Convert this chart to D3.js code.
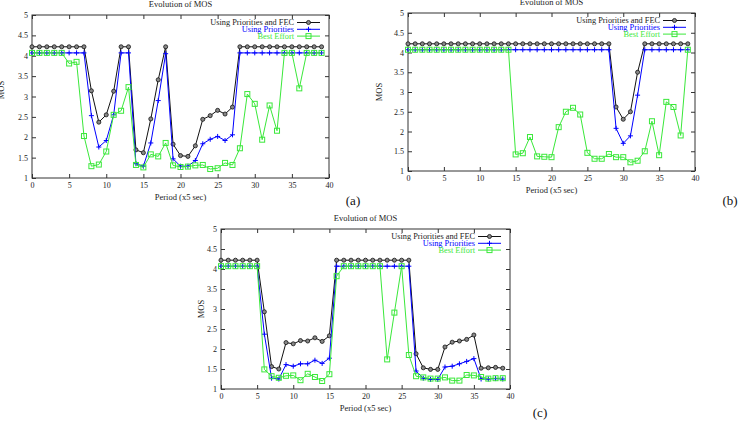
<!DOCTYPE html>
<html>
<head>
<meta charset="utf-8">
<script src="https://cdn.jsdelivr.net/npm/d3@7"></script>
<style>
  body { margin: 0; background: #fff; }
  svg { display: block; font-family: "Liberation Serif", "Times New Roman", serif; }
</style>
</head>
<body>
<svg id="chart" width="738" height="425"></svg>
<script>
// periods (x5 sec)
const periods = [0,1,2,3,4,5,6,7,8,9,10,11,12,13,14,15,16,17,18,19,20,21,22,23,24,25,26,27,28,29,30,31,32,33,34,35,36,37,38,39];
const xTicks = [0,5,10,15,20,25,30,35,40];
const yTicks = [1,1.5,2,2.5,3,3.5,4,4.5,5];
const yTickLabels = ["1","1.5","2","2.5","3","3.5","4","4.5","5"];
const seriesNames = ["Using Priorities and FEC", "Using Priorities", "Best Effort"];

// (a)
const fecA = [4.22,4.22,4.22,4.22,4.22,4.22,4.22,4.22,3.14,2.37,2.55,3.13,4.22,4.22,1.69,1.62,2.45,3.41,4.22,1.83,1.55,1.53,1.79,2.44,2.53,2.66,2.57,2.74,4.22,4.22,4.22,4.22,4.22,4.22,4.22,4.22,4.22,4.22,4.22,4.22];
const prioA = [4.07,4.07,4.07,4.07,4.07,4.07,4.07,4.07,2.53,1.76,1.92,2.55,4.07,4.07,1.35,1.29,1.86,2.9,4.05,1.47,1.29,1.29,1.43,1.84,1.95,2.02,1.92,2.06,4.07,4.07,4.07,4.07,4.07,4.07,4.07,4.07,4.07,4.07,4.07,4.07];
const beA = [4.07,4.07,4.07,4.07,4.07,3.81,3.85,2.03,1.29,1.33,1.65,2.55,2.65,3.23,1.32,1.26,1.58,1.53,1.86,1.31,1.27,1.28,1.31,1.32,1.22,1.24,1.37,1.32,1.73,3.06,2.82,1.94,2.78,2.16,4.07,4.07,3.2,4.07,4.07,4.07];

// (b)
const fecB = [4.22,4.22,4.22,4.22,4.22,4.22,4.22,4.22,4.22,4.22,4.22,4.22,4.22,4.22,4.22,4.22,4.22,4.22,4.22,4.22,4.22,4.22,4.22,4.22,4.22,4.22,4.22,4.22,4.22,2.62,2.31,2.5,3.5,4.22,4.22,4.22,4.22,4.22,4.22,4.22];
const prioB = [4.07,4.07,4.07,4.07,4.07,4.07,4.07,4.07,4.07,4.07,4.07,4.07,4.07,4.07,4.07,4.07,4.07,4.07,4.07,4.07,4.07,4.07,4.07,4.07,4.07,4.07,4.07,4.07,4.07,2.08,1.7,1.89,2.92,4.07,4.07,4.07,4.07,4.07,4.07,4.07];
const beB = [4.07,4.07,4.07,4.07,4.07,4.07,4.07,4.07,4.07,4.07,4.07,4.07,4.07,4.07,4.07,1.42,1.45,1.86,1.37,1.36,1.35,2.11,2.5,2.6,2.43,1.46,1.31,1.31,1.43,1.35,1.35,1.22,1.26,1.5,2.26,1.4,2.75,2.62,1.9,4.07];

// (c)
const fecC = [4.22,4.22,4.22,4.22,4.22,4.22,2.93,1.56,1.5,2.16,2.13,2.21,2.2,2.28,2.19,2.33,4.22,4.22,4.22,4.22,4.22,4.22,4.22,4.22,4.22,4.22,4.22,1.88,1.53,1.49,1.49,2.05,2.17,2.2,2.24,2.35,1.52,1.53,1.54,1.52];
const prioC = [4.07,4.07,4.07,4.07,4.07,4.07,2.37,1.27,1.25,1.61,1.57,1.63,1.63,1.72,1.64,1.77,4.07,4.07,4.07,4.07,4.07,4.07,4.07,4.07,4.07,4.07,4.07,1.45,1.27,1.24,1.24,1.55,1.57,1.63,1.69,1.76,1.25,1.25,1.26,1.25];
const beC = [4.07,4.07,4.07,4.07,4.07,4.07,1.49,1.32,1.28,1.33,1.34,1.22,1.38,1.3,1.2,1.37,3.82,4.07,4.07,4.07,4.07,4.07,4.07,1.74,2.91,4.07,1.85,1.32,1.29,1.26,1.26,1.29,1.21,1.21,1.35,1.34,1.3,1.26,1.27,1.27];

const colors = ["#111111", "#0000ff", "#3ae83a"];

const panels = [
  { tag: "(a)", series: [fecA, prioA, beA], left: 32, right: 329, top: 15, bottom: 178, yLabelX: 1, yLabelY: 90, tagX: 353, tagY: 205 },
  { tag: "(b)", series: [fecB, prioB, beB], left: 408, right: 695, top: 13, bottom: 171, yLabelX: 379, yLabelY: 92, tagX: 730, tagY: 205 },
  { tag: "(c)", series: [fecC, prioC, beC], left: 221, right: 510, top: 229, bottom: 389, yLabelX: 201, yLabelY: 309, tagX: 540, tagY: 417 }
];

const svg = d3.select("#chart");

function drawMarker(g, i, x, y) {
  if (i === 0) {
    g.append("path")
      .attr("d", d3.symbol().type(d3.symbolCircle).size(13)())
      .attr("transform", `translate(${x},${y})`)
      .attr("fill", "#888").attr("stroke", "#111").attr("stroke-width", 0.8);
  } else if (i === 1) {
    g.append("path")
      .attr("d", `M${x-2.5},${y}H${x+2.5}M${x},${y-2.5}V${y+2.5}`)
      .attr("stroke", colors[1]).attr("stroke-width", 1);
  } else {
    g.append("rect")
      .attr("x", x - 2.5).attr("y", y - 2.5).attr("width", 5).attr("height", 5)
      .attr("fill", "none").attr("stroke", colors[2]).attr("stroke-width", 1);
  }
}

panels.forEach(p => {
  const x = d3.scaleLinear().domain([0, 40]).range([p.left, p.right]);
  const y = d3.scaleLinear().domain([1, 5]).range([p.bottom, p.top]);
  const g = svg.append("g");
  const w = p.right - p.left, h = p.bottom - p.top;

  // title
  g.append("text").attr("x", (p.left + p.right) / 2).attr("y", p.top - 8)
    .attr("text-anchor", "middle").attr("font-size", 8.5).attr("fill", "#222")
    .text("Evolution of MOS");

  // axes with inward ticks (gnuplot style)
  const fmt = d => yTickLabels[yTicks.indexOf(d)];
  g.append("g").attr("transform", `translate(${p.left},0)`)
    .call(d3.axisRight(y).tickValues(yTicks).tickSize(4).tickFormat(""));
  g.append("g").attr("transform", `translate(${p.left},0)`)
    .call(d3.axisLeft(y).tickValues(yTicks).tickSize(0).tickPadding(4).tickFormat(fmt));
  g.append("g").attr("transform", `translate(${p.right},0)`)
    .call(d3.axisLeft(y).tickValues(yTicks).tickSize(4).tickFormat(""));
  g.append("g").attr("transform", `translate(0,${p.bottom})`)
    .call(d3.axisTop(x).tickValues(xTicks).tickSize(4).tickFormat(""));
  g.append("g").attr("transform", `translate(0,${p.bottom})`)
    .call(d3.axisBottom(x).tickValues(xTicks).tickSize(0).tickPadding(4).tickFormat(d3.format("d")));
  g.append("g").attr("transform", `translate(0,${p.top})`)
    .call(d3.axisBottom(x).tickValues(xTicks).tickSize(4).tickFormat(""));
  g.selectAll(".domain").remove();
  g.selectAll(".tick line").attr("stroke", "#333");
  g.selectAll(".tick text").attr("font-size", 8).attr("fill", "#222")
    .attr("font-family", "Liberation Serif, serif");

  g.append("rect").attr("x", p.left).attr("y", p.top).attr("width", w).attr("height", h)
    .attr("fill", "none").attr("stroke", "#333").attr("stroke-width", 1);

  // axis labels
  g.append("text").attr("x", (p.left + p.right) / 2).attr("y", p.bottom + 22)
    .attr("text-anchor", "middle").attr("font-size", 8.5).attr("fill", "#222")
    .text("Period (x5 sec)");
  g.append("text").attr("transform", `translate(${p.yLabelX},${p.yLabelY}) rotate(-90)`)
    .attr("text-anchor", "middle").attr("dy", "0.35em").attr("font-size", 8.5).attr("fill", "#222")
    .text("MOS");

  // series
  const line = d3.line().x((d, i) => x(periods[i])).y(d => y(d));
  p.series.forEach((vals, i) => {
    const sg = g.append("g");
    sg.append("path").datum(vals).attr("d", line)
      .attr("fill", "none").attr("stroke", colors[i]).attr("stroke-width", 1);
    vals.forEach((v, k) => drawMarker(sg, i, x(periods[k]), y(v)));
  });

  // legend
  seriesNames.forEach((name, i) => {
    const ly = p.top + 7.5 + i * 6.8;
    g.append("text").attr("x", p.right - 35).attr("y", ly).attr("dy", "0.33em")
      .attr("text-anchor", "end").attr("font-size", 8.3)
      .attr("fill", i === 0 ? "#222" : colors[i]).text(name);
    g.append("line").attr("x1", p.right - 32).attr("x2", p.right - 9)
      .attr("y1", ly).attr("y2", ly).attr("stroke", colors[i]).attr("stroke-width", 1);
    drawMarker(g, i, p.right - 20.5, ly);
  });

  // panel tag
  svg.append("text").attr("x", p.tagX).attr("y", p.tagY).attr("text-anchor", "middle")
    .attr("font-size", 13).attr("fill", "#111").text(p.tag);
});
</script>
</body>
</html>
